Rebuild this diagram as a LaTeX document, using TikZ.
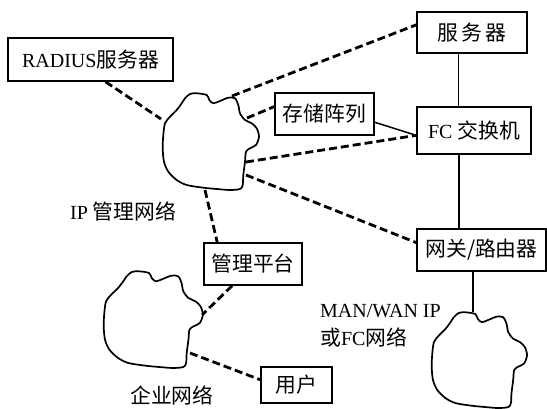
\documentclass[tikz,border=0pt]{standalone}
\usepackage{fontspec}
\setmainfont{Liberation Serif}
\newfontfamily\cjk{Noto Sans CJK SC}[Scale=1.04]
\usetikzlibrary{calc}
\tikzset{
  box/.style={draw, line width=1.5pt, inner sep=0pt, font=\fontsize{20}{24}\selectfont},
  lbl/.style={inner sep=0pt, anchor=west, font=\fontsize{20}{24}\selectfont},
  dline/.style={line width=2.8pt, dash pattern=on 8pt off 4pt},
  sline/.style={line width=1.5pt},
  cloudline/.style={line width=1.7pt, line join=round},
  cloudpic/.pic={\draw[cloudline] plot[smooth cycle, tension=0.5] coordinates {
    (22,5.3) (27,1) (33.7,0.3) (43.7,2) (46.3,7) (50.3,10.3) (57,8) (65.3,4.7) (72,5.3)
    (75.3,12) (77,20.3) (82,27) (88.7,30.3) (93.7,35.3) (96,43.7) (93,52) (87,55.3)
    (83,58.7) (82,68.7) (80.3,82) (79.7,92) (77,96) (67,97) (53.7,96) (40.3,94.7)
    (23.7,92) (13.7,87) (5.3,78.7) (1,68.7) (-0.3,55.3) (0.3,42) (2,30.3) (7,23.7)
    (13.7,17) (18.7,10.3)};}
}
\begin{document}
\begin{tikzpicture}[x=1pt, y=-1pt]
\useasboundingbox (0,0) rectangle (547,409);
% boxes
\node[box, minimum width=165pt, minimum height=43pt] (radius) at (90.5,59.5) {RADIUS{\cjk 服务器}};
\node[box, minimum width=110pt, minimum height=41pt] (srv) at (472,32.5) {\cjk 服\,务\,器};
\node[box, minimum width=99pt, minimum height=42pt] (stor) at (324.5,114) {\cjk 存储阵列};
\node[box, minimum width=114pt, minimum height=47pt] (fc) at (474,130.5) {FC {\cjk 交换机}};
\node[box, minimum width=129pt, minimum height=42pt] (gw) at (481.5,250) {\cjk 网关/路由器};
\node[box, minimum width=98pt, minimum height=42pt] (mgmt) at (253,264) {\cjk 管理平台};
\node[box, minimum width=71pt, minimum height=36pt] (user) at (296.5,385) {\cjk 用户};
% clouds
\pic at (163,93) {cloudpic};
\pic[xscale=1.03] at (104,271) {cloudpic};
\pic[xscale=0.99, yscale=0.99] at (432,312) {cloudpic};
% labels
\node[lbl] (iplbl) at (70,211) {IP {\cjk 管理网络}};
\node[lbl] (enlbl) at (130,395) {\cjk 企业网络};
\node[lbl] (manlbl1) at (320,311) {MAN/WAN IP};
\node[lbl] (manlbl2) at (320,337) {{\cjk 或}FC{\cjk 网络}};
% cloud attachment points
\coordinate (ipL) at (161,119);
\coordinate (ipTR) at (232,96);
\coordinate (ipR1) at (247,118);
\coordinate (ipR2) at (246,162);
\coordinate (ipR3) at (246,175);
\coordinate (ipB) at (205,190);
\coordinate (enTR) at (202,315);
\coordinate (enR) at (190,353);
\coordinate (manT) at (473,312);
% dashed connectors
\draw[dline] ($(radius.south west)!0.59!(radius.south east)$) -- (ipL);
\draw[dline] (ipTR) -- ($(srv.north west)!0.32!(srv.south west)$);
\draw[dline] (ipR1) -- ($(stor.north west)!0.33!(stor.south west)$);
\draw[dline] (ipR2) -- ($(fc.north west)!0.6!(fc.south west)$);
\draw[dline] (ipR3) -- ($(gw.north west)!0.33!(gw.south west)$);
\draw[dline] (ipB) -- ($(mgmt.north west)!0.14!(mgmt.north east)$);
\draw[dline] ($(mgmt.south west)!0.29!(mgmt.south east)$) -- (enTR);
\draw[dline] (enR) -- ($(user.north west)!0.36!(user.south west)$);
% solid connectors
\draw[sline] ($(stor.north east)!0.69!(stor.south east)$) -- ($(fc.north west)!0.6!(fc.south west)$);
\coordinate (srvb) at ($(srv.south west)!0.38!(srv.south east)$);
\draw[sline] (srvb) -- (srvb |- fc.north);
\coordinate (fcb) at ($(fc.south west)!0.37!(fc.south east)$);
\draw[sline] (fcb) -- (fcb |- gw.north);
\coordinate (gwb) at ($(gw.south west)!0.434!(gw.south east)$);
\draw[sline] (gwb) -- (gwb |- manT);
\end{tikzpicture}
\end{document}
